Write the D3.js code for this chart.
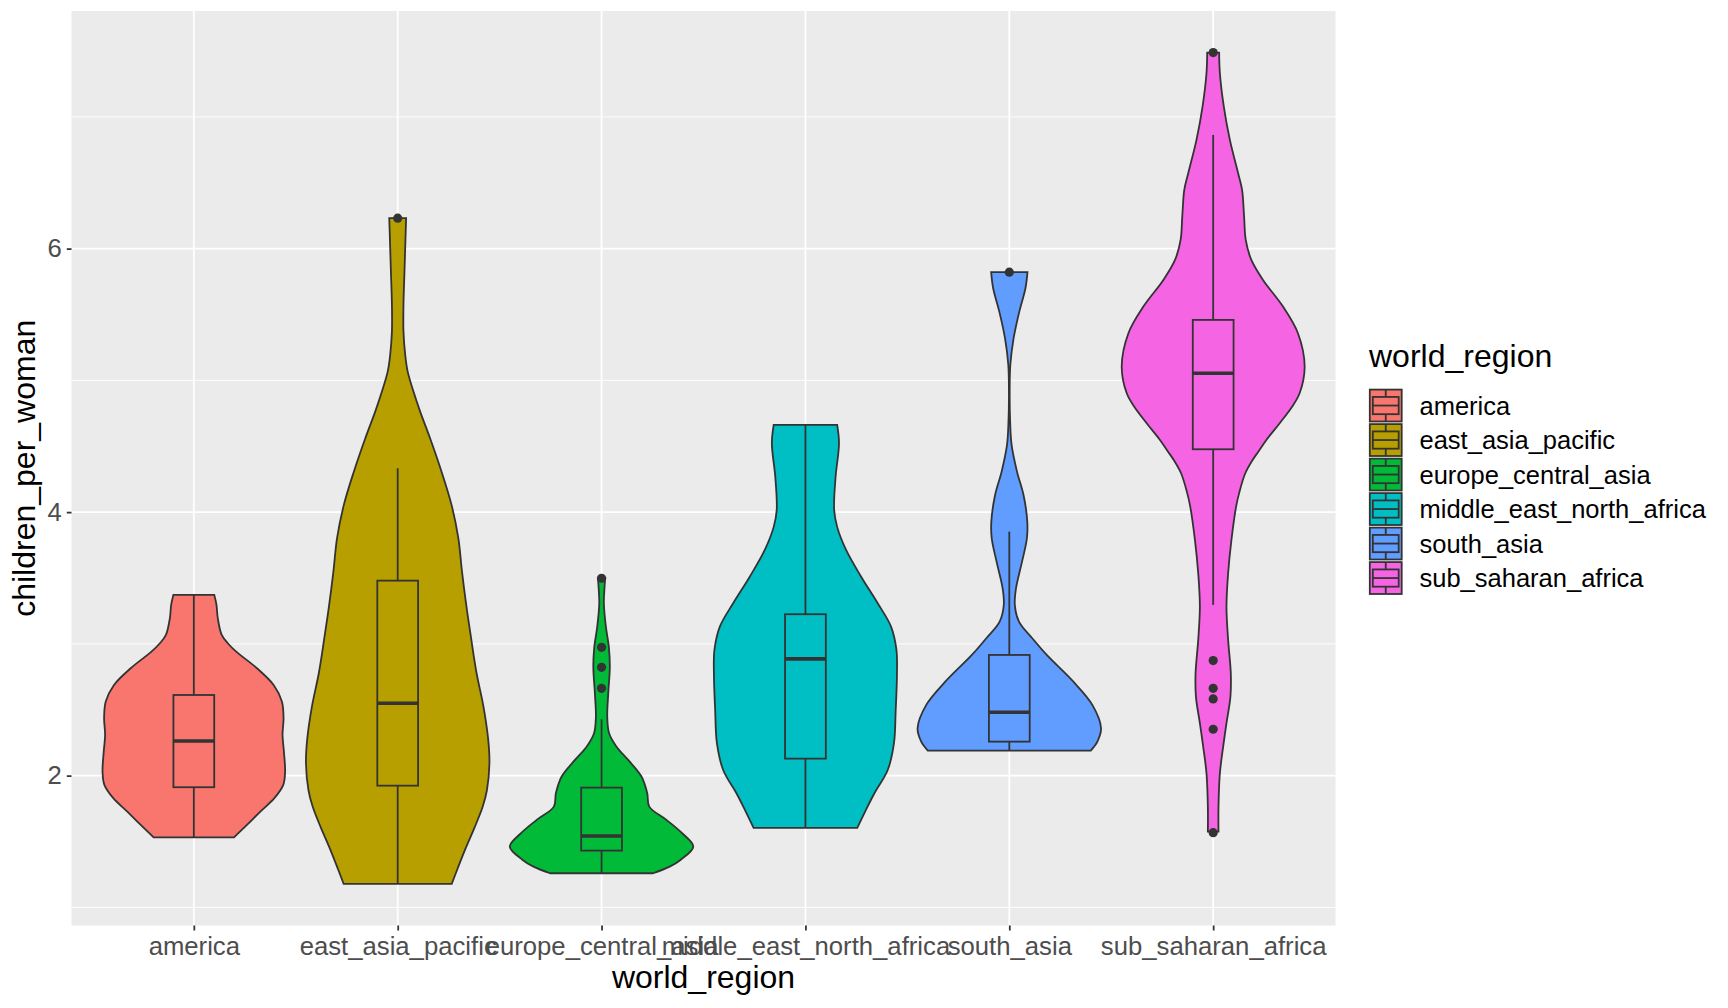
<!DOCTYPE html>
<html>
<head>
<meta charset="utf-8">
<script src="https://cdn.jsdelivr.net/npm/d3@7"></script>
<style>
  body { margin: 0; background: #ffffff; }
  text { font-family: "Liberation Sans", Arial, Helvetica, sans-serif; }
</style>
</head>
<body>
<div id="chart"></div>
<script>
const regions = [
  "america",
  "east_asia_pacific",
  "europe_central_asia",
  "middle_east_north_africa",
  "south_asia",
  "sub_saharan_africa",
];
const colors = ["#F8766D", "#B79F00", "#00BA38", "#00BFC4", "#619CFF", "#F564E3"];
const yTicks = [2, 4, 6];
const yMinorTicks = [1, 3, 5, 7];

// violin outlines: [children_per_woman, relative density]
const americaViolin = [
  [3.372, 0.223], [3.296, 0.247], [3.195, 0.261], [3.068, 0.304], [3.005, 0.37],
  [2.941, 0.462], [2.815, 0.688], [2.688, 0.87], [2.562, 0.96], [2.436, 0.978],
  [2.309, 0.967], [2.182, 0.982], [2.03, 0.995], [1.93, 0.975], [1.829, 0.878],
  [1.727, 0.725], [1.626, 0.579], [1.532, 0.438],
];
const eastAsiaViolin = [
  [6.231, 0.092], [6.079, 0.085], [5.826, 0.074], [5.573, 0.063], [5.37, 0.063],
  [5.193, 0.082], [5.066, 0.109], [4.915, 0.172], [4.763, 0.245], [4.561, 0.353],
  [4.307, 0.478], [4.055, 0.587], [3.802, 0.661], [3.548, 0.701], [3.296, 0.747],
  [3.043, 0.8], [2.777, 0.86], [2.524, 0.935], [2.271, 0.987], [2.094, 1.0],
  [1.891, 0.973], [1.765, 0.927], [1.613, 0.842], [1.461, 0.748], [1.309, 0.661],
  [1.178, 0.589],
];
const europeViolin = [
  [3.498, 0.04], [3.435, 0.033], [3.308, 0.025], [3.131, 0.047], [2.979, 0.079],
  [2.827, 0.09], [2.625, 0.073], [2.448, 0.062], [2.322, 0.082], [2.22, 0.163],
  [2.119, 0.29], [1.993, 0.435], [1.866, 0.498], [1.765, 0.52], [1.664, 0.707],
  [1.563, 0.878], [1.461, 1.0], [1.36, 0.86], [1.309, 0.742], [1.259, 0.562],
];
const middleEastViolin = [
  [4.662, 0.346], [4.523, 0.366], [4.27, 0.329], [4.017, 0.313], [3.89, 0.345],
  [3.713, 0.443], [3.51, 0.607], [3.308, 0.788], [3.131, 0.933], [2.954, 0.992],
  [2.751, 0.997], [2.499, 0.984], [2.246, 0.965], [2.043, 0.897], [1.866, 0.752],
  [1.74, 0.66], [1.603, 0.565],
];
const southAsiaViolin = [
  [5.821, 0.198], [5.699, 0.176], [5.522, 0.109], [5.32, 0.047], [5.117, 0.011],
  [4.889, 0.004], [4.687, 0.009], [4.51, 0.025], [4.307, 0.084], [4.13, 0.155],
  [3.928, 0.196], [3.802, 0.192], [3.624, 0.139], [3.422, 0.073], [3.296, 0.06],
  [3.169, 0.105], [3.043, 0.25], [2.916, 0.408], [2.713, 0.698], [2.537, 0.905],
  [2.36, 1.0], [2.258, 0.96], [2.19, 0.888],
];
const subSaharanViolin = [
  [7.488, 0.065], [7.331, 0.073], [7.078, 0.116], [6.825, 0.182], [6.572, 0.272],
  [6.446, 0.315], [6.243, 0.337], [6.066, 0.355], [5.914, 0.416], [5.762, 0.543],
  [5.56, 0.761], [5.358, 0.924], [5.105, 0.997], [4.902, 0.942], [4.8, 0.86],
  [4.675, 0.725], [4.548, 0.58], [4.457, 0.49], [4.396, 0.43], [4.295, 0.35],
  [4.15, 0.285], [4.042, 0.25], [3.789, 0.199], [3.536, 0.163], [3.283, 0.145],
  [3.03, 0.163], [2.777, 0.192], [2.6, 0.188], [2.398, 0.145], [2.22, 0.109],
  [2.018, 0.073], [1.765, 0.058], [1.575, 0.058],
];
const violins = [americaViolin, eastAsiaViolin, europeViolin, middleEastViolin, southAsiaViolin, subSaharanViolin];

// boxplot stats: [lower whisker, q1, median, q3, upper whisker]
const boxStats = [
  [1.532, 1.912, 2.263, 2.612, 3.372],
  [1.178, 1.924, 2.549, 3.48, 4.333],
  [1.259, 1.431, 1.542, 1.909, 2.428],
  [1.603, 2.129, 2.886, 3.225, 4.662],
  [2.19, 2.258, 2.481, 2.916, 3.852],
  [3.296, 4.477, 5.054, 5.459, 6.863],
];
const outliers = [
  [],
  [6.231],
  [2.663, 2.822, 2.974, 3.498],
  [],
  [5.821],
  [1.567, 2.352, 2.582, 2.663, 2.873, 7.488],
];

const width = 1728;
const height = 1008;
const panel = { left: 71.5, right: 1335.5, top: 11, bottom: 925.5 };
const outline = "#333333";

const svg = d3
  .select("#chart")
  .append("svg")
  .attr("width", width)
  .attr("height", height);

// scales (5% expansion like ggplot)
const allValues = violins.flat().map((d) => d[0]).concat(outliers.flat());
const [yMin, yMax] = d3.extent(allValues);
const pad = (yMax - yMin) * 0.05;
const y = d3
  .scaleLinear()
  .domain([yMin - pad, yMax + pad])
  .range([panel.bottom, panel.top]);

const x = d3
  .scalePoint()
  .domain(regions)
  .range([panel.left, panel.right])
  .padding(0.6);
const step = x.step();

// panel background + grid
svg
  .append("rect")
  .attr("x", panel.left)
  .attr("y", panel.top)
  .attr("width", panel.right - panel.left)
  .attr("height", panel.bottom - panel.top)
  .attr("fill", "#EBEBEB");

svg
  .selectAll(".minor")
  .data(yMinorTicks)
  .enter()
  .append("line")
  .attr("x1", panel.left)
  .attr("x2", panel.right)
  .attr("y1", (d) => y(d))
  .attr("y2", (d) => y(d))
  .attr("stroke", "#ffffff")
  .attr("stroke-width", 0.9);

svg
  .selectAll(".major-y")
  .data(yTicks)
  .enter()
  .append("line")
  .attr("x1", panel.left)
  .attr("x2", panel.right)
  .attr("y1", (d) => y(d))
  .attr("y2", (d) => y(d))
  .attr("stroke", "#ffffff")
  .attr("stroke-width", 1.8);

svg
  .selectAll(".major-x")
  .data(regions)
  .enter()
  .append("line")
  .attr("x1", (d) => x(d))
  .attr("x2", (d) => x(d))
  .attr("y1", panel.top)
  .attr("y2", panel.bottom)
  .attr("stroke", "#ffffff")
  .attr("stroke-width", 1.8);

// violins
const violinArea = (cx) =>
  d3
    .area()
    .y((d) => y(d[0]))
    .x0((d) => cx - d[1] * step * 0.45)
    .x1((d) => cx + d[1] * step * 0.45)
    .curve(d3.curveCatmullRom);

svg
  .selectAll(".violin")
  .data(regions)
  .enter()
  .append("path")
  .attr("class", "violin")
  .attr("d", (d, i) => violinArea(x(d))(violins[i]))
  .attr("fill", (d, i) => colors[i])
  .attr("stroke", outline)
  .attr("stroke-width", 1.8);

// boxplots
const boxW = step * 0.2;
regions.forEach((r, i) => {
  const cx = x(r);
  const [lo, q1, med, q3, hi] = boxStats[i];
  const g = svg.append("g");

  g.append("line")
    .attr("x1", cx).attr("x2", cx)
    .attr("y1", y(hi)).attr("y2", y(q3))
    .attr("stroke", outline).attr("stroke-width", 1.8);
  g.append("line")
    .attr("x1", cx).attr("x2", cx)
    .attr("y1", y(q1)).attr("y2", y(lo))
    .attr("stroke", outline).attr("stroke-width", 1.8);
  g.append("rect")
    .attr("x", cx - boxW / 2)
    .attr("y", y(q3))
    .attr("width", boxW)
    .attr("height", y(q1) - y(q3))
    .attr("fill", colors[i])
    .attr("stroke", outline)
    .attr("stroke-width", 1.8);
  g.append("line")
    .attr("x1", cx - boxW / 2).attr("x2", cx + boxW / 2)
    .attr("y1", y(med)).attr("y2", y(med))
    .attr("stroke", outline).attr("stroke-width", 3.6);

  g.selectAll("circle")
    .data(outliers[i])
    .enter()
    .append("circle")
    .attr("cx", cx)
    .attr("cy", (d) => y(d))
    .attr("r", 4.6)
    .attr("fill", outline);
});

// axes
const yAxis = svg
  .append("g")
  .attr("transform", `translate(${panel.left},0)`)
  .call(d3.axisLeft(y).tickValues(yTicks).tickSize(4.7).tickPadding(5).tickFormat(d3.format("d")));

const xAxis = svg
  .append("g")
  .attr("transform", `translate(0,${panel.bottom})`)
  .call(d3.axisBottom(x).tickSize(5).tickPadding(6.3));

[yAxis, xAxis].forEach((a) => {
  a.select(".domain").remove();
  a.selectAll(".tick line").attr("stroke", outline).attr("stroke-width", 1.8);
  a.selectAll(".tick text")
    .attr("fill", "#4D4D4D")
    .style("font-size", "25.7px")
    .style("font-family", '"Liberation Sans", Arial, Helvetica, sans-serif');
});

// axis titles
svg
  .append("text")
  .attr("x", (panel.left + panel.right) / 2)
  .attr("y", 988)
  .attr("text-anchor", "middle")
  .style("font-size", "32px")
  .text("world_region");

svg
  .append("text")
  .attr("transform", `translate(35,${(panel.top + panel.bottom) / 2}) rotate(-90)`)
  .attr("text-anchor", "middle")
  .style("font-size", "32px")
  .text("children_per_woman");

// legend
const legend = svg.append("g").attr("transform", "translate(1368.5,388.3)");
const keySize = 34.5;

legend
  .append("text")
  .attr("x", 0.5)
  .attr("y", -21.3)
  .style("font-size", "32px")
  .text("world_region");

regions.forEach((r, i) => {
  const k = legend.append("g").attr("transform", `translate(0,${i * keySize})`);
  k.append("rect")
    .attr("x", 1.3)
    .attr("y", 1.3)
    .attr("width", keySize - 2.6)
    .attr("height", keySize - 2.6)
    .attr("fill", colors[i])
    .attr("stroke", outline)
    .attr("stroke-width", 1.8);
  const mid = keySize / 2;
  k.append("line")
    .attr("x1", mid).attr("x2", mid)
    .attr("y1", keySize * 0.05).attr("y2", keySize * 0.25)
    .attr("stroke", outline).attr("stroke-width", 1.8);
  k.append("line")
    .attr("x1", mid).attr("x2", mid)
    .attr("y1", keySize * 0.75).attr("y2", keySize * 0.95)
    .attr("stroke", outline).attr("stroke-width", 1.8);
  k.append("rect")
    .attr("x", keySize * 0.125)
    .attr("y", keySize * 0.25)
    .attr("width", keySize * 0.75)
    .attr("height", keySize * 0.5)
    .attr("fill", colors[i])
    .attr("stroke", outline)
    .attr("stroke-width", 1.8);
  k.append("line")
    .attr("x1", keySize * 0.125).attr("x2", keySize * 0.875)
    .attr("y1", mid).attr("y2", mid)
    .attr("stroke", outline).attr("stroke-width", 1.8);
  k.append("text")
    .attr("x", 51)
    .attr("y", mid + 9)
    .style("font-size", "25.5px")
    .text(r);
});
</script>
</body>
</html>
